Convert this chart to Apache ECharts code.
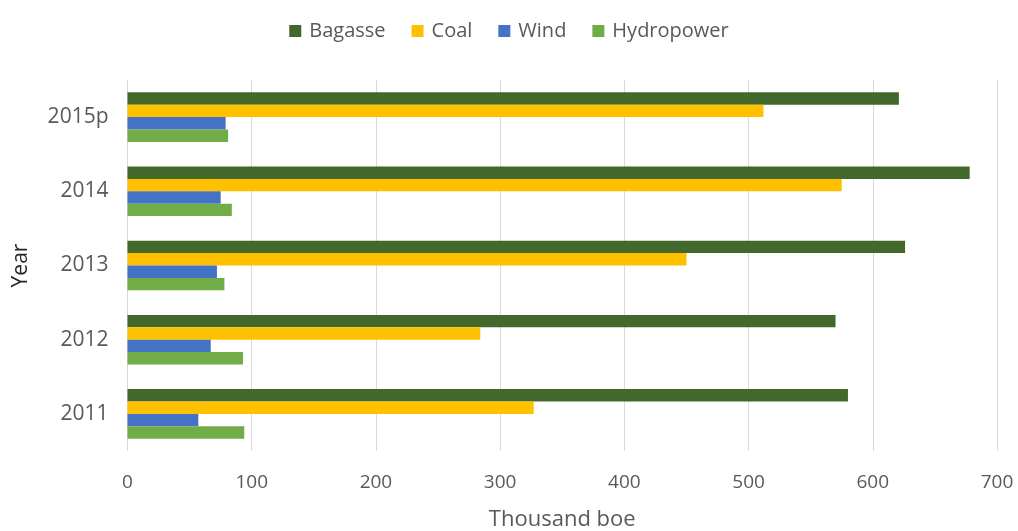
<!DOCTYPE html>
<html>
<head>
<meta charset="utf-8">
<title>Energy sources by year</title>
<script src="https://cdn.jsdelivr.net/npm/echarts@6/dist/echarts.min.js"></script>
<style>
  html, body { margin: 0; padding: 0; background: #ffffff; }
  #chart { width: 1018px; height: 531px; }
</style>
</head>
<body>
<div id="chart"></div>
<script>
// Years, bottom to top on the category axis
const years = ['2011', '2012', '2013', '2014', '2015p'];

// Values in thousand barrels of oil equivalent
const bagasse    = [580, 570, 626, 678, 621];
const coal       = [327, 284, 450, 575, 512];
const wind       = [57, 67, 72, 75, 79];
const hydropower = [94, 93, 78, 84, 81];

const xTicks = { min: 0, max: 700, interval: 100 };

const FONT = '"Open Sans", "Liberation Sans", sans-serif';
const TEXT = '#595959';

const chart = echarts.init(document.getElementById('chart'), null, { renderer: 'canvas' });

// Within each year group the first series is drawn at the top
const seriesDefs = [
  { name: 'Bagasse',    data: bagasse,    color: '#43682B' },
  { name: 'Coal',       data: coal,       color: '#FFC000' },
  { name: 'Wind',       data: wind,       color: '#4472C4' },
  { name: 'Hydropower', data: hydropower, color: '#70AD47' }
];

chart.setOption({
  backgroundColor: '#ffffff',
  animation: false,
  textStyle: { fontFamily: FONT },
  legend: {
    top: 16,
    left: 'center',
    icon: 'rect',
    itemWidth: 12,
    itemHeight: 12,
    itemGap: 26,
    textStyle: { color: TEXT, fontSize: 20, fontFamily: FONT, padding: [0, 0, 0, 3] }
  },
  grid: { left: 127.5, right: 21, top: 80, bottom: 80, containLabel: false, outerBoundsMode: 'none' },
  xAxis: {
    type: 'value',
    min: xTicks.min,
    max: xTicks.max,
    interval: xTicks.interval,
    name: 'Thousand boe',
    nameLocation: 'middle',
    nameGap: 58,
    nameTextStyle: { color: TEXT, fontSize: 22, fontFamily: FONT },
    axisLine: { show: false },
    axisTick: { show: false },
    axisLabel: { color: TEXT, fontSize: 19, fontFamily: FONT, margin: 22 },
    splitLine: { show: true, lineStyle: { color: '#D9D9D9', width: 1 } }
  },
  yAxis: {
    type: 'category',
    data: years,
    name: 'Year',
    nameLocation: 'middle',
    nameGap: 96,
    nameRotate: 90,
    nameTextStyle: { color: '#262626', fontSize: 21, fontFamily: FONT },
    axisLine: { show: false },
    axisTick: { show: false },
    axisLabel: { color: TEXT, fontSize: 21, fontFamily: FONT, margin: 19 },
    splitLine: { show: false }
  },
  series: seriesDefs.map(s => ({
    name: s.name,
    type: 'bar',
    data: s.data,
    barWidth: 12.4,
    barGap: '0%',
    itemStyle: { color: s.color },
    emphasis: { disabled: true }
  }))
});
</script>
</body>
</html>
